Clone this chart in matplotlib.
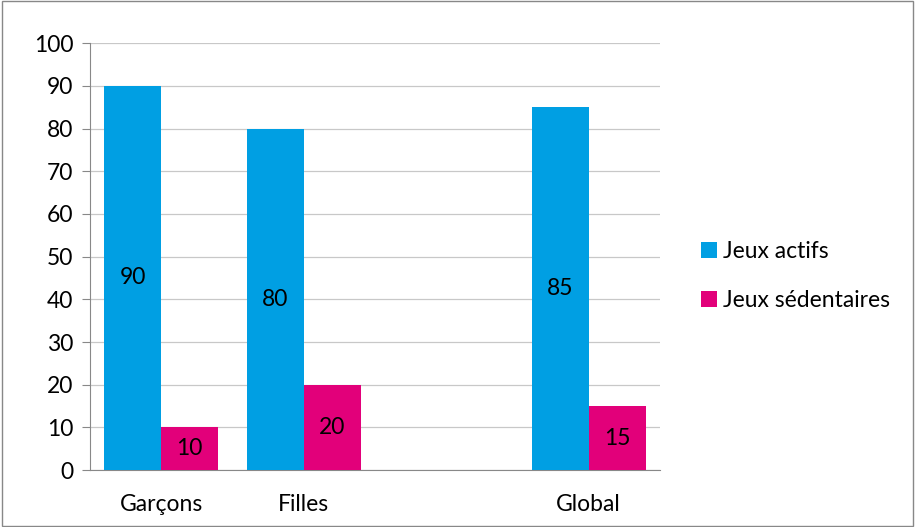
import numpy as np
from matplotlib import pyplot as plt
from matplotlib.patches import Rectangle

categories = ['Garçons', 'Filles', '', 'Global']
actifs = [90, 80, None, 85]
sedentaires = [10, 20, None, 15]
series_names = ['Jeux actifs', 'Jeux sédentaires']
y_ticks = [0, 10, 20, 30, 40, 50, 60, 70, 80, 90, 100]

BLUE = '#009FE3'
PINK = '#E2007A'
FS = 16.5


def main():
    plt.rcParams['font.family'] = ['Lato', 'DejaVu Sans']
    fig = plt.figure(figsize=(9.15, 5.27), dpi=100)
    ax = fig.add_axes([0.0984, 0.108, 0.6229, 0.81])

    x = np.arange(len(categories))
    w = 0.4
    for i, (a, s) in enumerate(zip(actifs, sedentaires)):
        if a is None:
            continue
        b1 = ax.bar(x[i] - w / 2, a, w, color=BLUE, zorder=3,
                    label=series_names[0] if i == 0 else None)
        b2 = ax.bar(x[i] + w / 2, s, w, color=PINK, zorder=3,
                    label=series_names[1] if i == 0 else None)
        ax.bar_label(b1, labels=[str(a)], label_type='center', fontsize=FS)
        ax.bar_label(b2, labels=[str(s)], label_type='center', fontsize=FS)

    ax.set_xlim(-0.5, len(categories) - 0.5)
    ax.set_ylim(0, 100)
    ax.set_yticks(y_ticks)
    ax.set_xticks(x)
    ax.set_xticklabels(categories)
    ax.tick_params(axis='x', length=0, labelsize=FS, pad=17)
    ax.tick_params(axis='y', length=6, color='#888888', labelsize=FS, pad=6)
    ax.grid(axis='y', color='#C8C8C8', linewidth=0.9, zorder=0)
    for side in ['top', 'right']:
        ax.spines[side].set_visible(False)
    for side in ['left', 'bottom']:
        ax.spines[side].set_color('#888888')

    ax.legend(loc='center left', bbox_to_anchor=(1.035, 0.455), frameon=False,
              fontsize=FS, handlelength=0.7, handleheight=0.7,
              handletextpad=0.3, labelspacing=1.2)

    fig.patches.append(Rectangle((0.002, 0.002), 0.996, 0.996,
                                 transform=fig.transFigure, fill=False,
                                 edgecolor='#888888', linewidth=1))

    fig.savefig('out.png')


if __name__ == '__main__':
    main()
